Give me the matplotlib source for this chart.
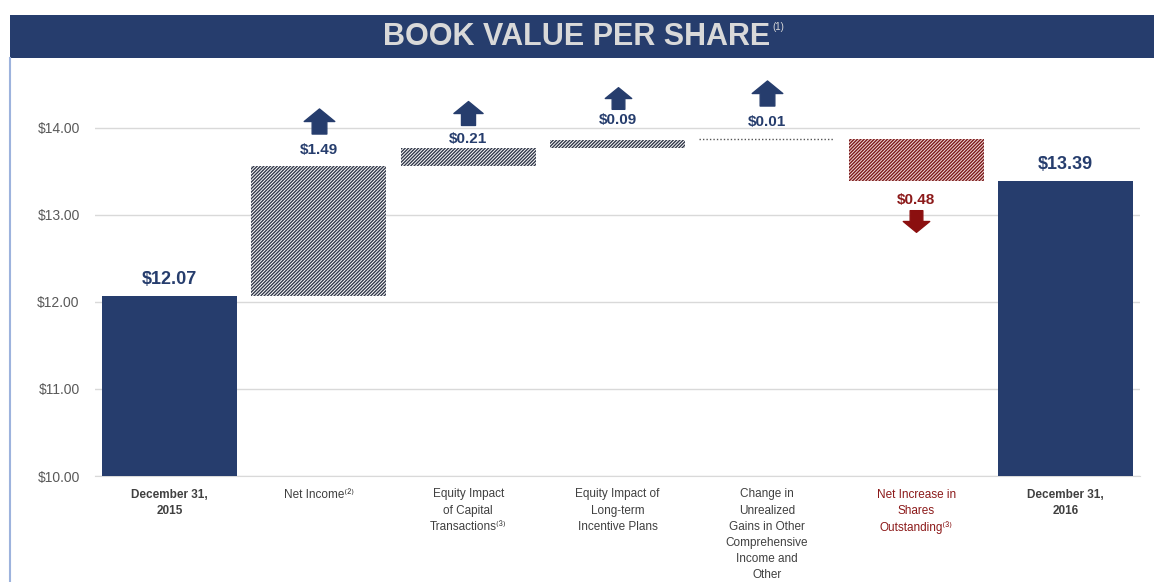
################################################
# Book value per share bridge, 2015 -> 2016
################################################
import numpy as np
import matplotlib.pyplot as plt
from matplotlib.patches import Rectangle
from matplotlib.path import Path
from matplotlib import transforms

################################################
# Data

categories = ["December 31,\n2015", "Net Income⁽²⁾", "Equity Impact\nof Capital\nTransactions⁽³⁾",
              "Equity Impact of\nLong-term\nIncentive Plans", "Change in\nUnrealized\nGains in Other\nComprehensive\nIncome and\nOther",
              "Net Increase in\nShares\nOutstanding⁽³⁾", "December 31,\n2016"]
start_value = 12.07
changes = [1.49, 0.21, 0.09, 0.01, -0.48]
end_value = 13.39
value_labels = ["$12.07", "$1.49", "$0.21", "$0.09", "$0.01", "$0.48", "$13.39"]
yticks = [10, 11, 12, 13, 14]

################################################
# Styles

navy = '#263D6D'
red = '#8C1A1A'
grey_txt = '#595959'
plt.rcParams['font.family'] = ['Liberation Sans', 'DejaVu Sans']
plt.rcParams['hatch.linewidth'] = 1.0

fig = plt.figure(figsize=(11.54, 5.82), dpi=100)
ax = fig.add_axes([95/1154, 1-476/582, 1045/1154, (476-84)/582])

# header band + frame
fig.patches.append(Rectangle((10/1154, 1-58/582), 1-10/1154, 43/582, transform=fig.transFigure,
                             facecolor=navy, edgecolor='none', zorder=0))
fig.add_artist(plt.Line2D([10/1154, 10/1154], [0, 1-58/582], transform=fig.transFigure, color='#9DB3DD', lw=1.5))
fig.text(0.5, 1-37/582, "BOOK VALUE PER SHARE", ha='center', va='center', color='#D9D9D9',
         fontsize=22, fontweight='bold')
fig.text(0.5+195/1154, 1-27/582, "(1)", ha='left', va='center', color='#D9D9D9', fontsize=7)

################################################
# Waterfall geometry

x = np.arange(len(categories))
level = start_value + np.cumsum(changes)
before = np.concatenate([[start_value], level[:-1]])
width = 0.905

ax.bar(x[0], start_value - 10, bottom=10, width=width, color=navy, zorder=3)
ax.bar(x[-1], end_value - 10, bottom=10, width=width, color=navy, zorder=3)

for i, d in enumerate(changes):
    xi = x[i+1]
    lo = min(before[i], level[i])
    if abs(d) < 0.02:
        ax.hlines(level[i], xi - width/2, xi + width/2, colors='#555555', linestyles=(0, (1, 1.5)), lw=1, zorder=3)
        continue
    c = '#33394A' if d > 0 else '#7A1A1A'
    fc = 'white' if d > 0 else '#F3DCDC'
    ax.bar(xi, abs(d), bottom=lo, width=width, facecolor=fc, edgecolor=c, linewidth=0,
           hatch='/'*10, zorder=3)

# arrows
up = Path([(-0.24, -0.41), (0.24, -0.41), (0.24, 0.0), (0.5, 0.0), (0, 0.41), (-0.5, 0.0), (-0.24, 0.0), (-0.24, -0.41)],
          [Path.MOVETO] + [Path.LINETO]*6 + [Path.CLOSEPOLY])
down = Path(up.vertices * np.array([1, -1]), up.codes)

label_pad = [12, 11.5, 6.5, 14, 12, -14, 12]
arrow_pad = [None, 32, 25, 30, 33, -29, None]
arrow_size = [0, 22, 21, 19, 22, 19, 0]
tops = [start_value] + list(np.maximum(before, level)) + [end_value]
bottoms = [None] + list(np.minimum(before, level)) + [None]

for i, lab in enumerate(value_labels):
    big = i in (0, len(value_labels) - 1)
    neg = i > 0 and i <= len(changes) and changes[i-1] < 0
    yref = bottoms[i] if neg else tops[i]
    ax.annotate(lab, (x[i], yref), xytext=(0, label_pad[i]), textcoords='offset points',
                ha='center', va='center', fontsize=13 if big else 11, fontweight='bold',
                color=red if neg else navy, zorder=5)
    if arrow_pad[i] is not None:
        tr = transforms.offset_copy(ax.transData, fig=fig, x=0, y=arrow_pad[i], units='points')
        ax.plot(x[i], yref, marker=down if neg else up, markersize=arrow_size[i],
                color='#8B0F0F' if neg else navy, transform=tr, clip_on=False, zorder=5)

################################################
# Axes

ax.set_xlim(-0.5, 6.5)
ax.set_ylim(10, 14.5)
ax.set_yticks(yticks)
ax.set_yticklabels([f"${v:.2f}" for v in yticks], color=grey_txt, fontsize=10)
ax.grid(axis='y', color='#D9D9D9', lw=1, zorder=0)
for s in ['top', 'right', 'left']:
    ax.spines[s].set_visible(False)
ax.spines['bottom'].set_color('#D9D9D9')
ax.tick_params(axis='y', length=0, pad=11)
ax.tick_params(axis='x', length=0, pad=9)
ax.set_xticks(x)
ax.set_xticklabels(categories, fontsize=8.5, color='#404040', linespacing=1.45, va='top')
for i, t in enumerate(ax.get_xticklabels()):
    if i in (0, len(categories) - 1):
        t.set_fontweight('bold')
    if i == 5:
        t.set_color(red)

plt.savefig('out.png', dpi=100)
